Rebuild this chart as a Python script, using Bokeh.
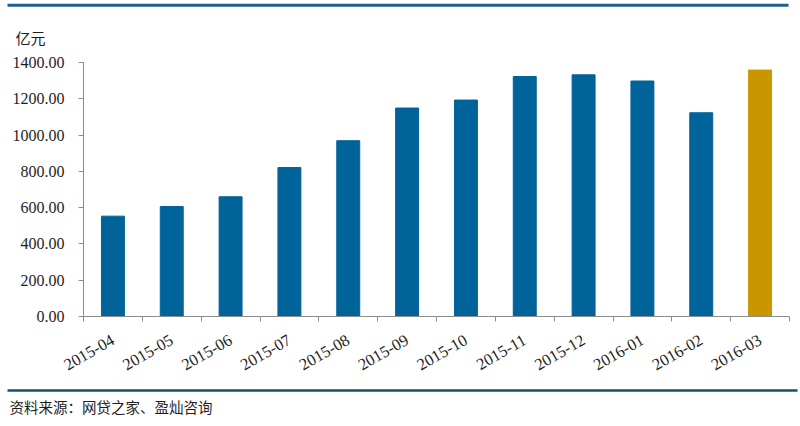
from bokeh.plotting import figure
from bokeh.layouts import column
from bokeh.models import Range1d, FixedTicker, NumeralTickFormatter, ColumnDataSource
from bokeh.core.properties import value
from bokeh.embed import file_html
from bokeh.resources import INLINE
import math

# ---- data ----
months = ["2015-04", "2015-05", "2015-06", "2015-07", "2015-08", "2015-09",
          "2015-10", "2015-11", "2015-12", "2016-01", "2016-02", "2016-03"]
volumes = [553, 606, 660, 821, 969, 1149, 1193, 1323, 1332, 1298, 1123, 1358]
bar_colors = ["#006399"] * 11 + ["#C99600"]
y_ticks = [0, 200, 400, 600, 800, 1000, 1200, 1400]
unit_label = "亿元"
source_note = "资料来源：网贷之家、盈灿咨询"

W = 800
CJK = "Noto Sans CJK SC"
SERIF = "Times New Roman, serif"
TXT = "#1E1E1E"
AXIS = "#8C8C8C"

def blank(h):
    f = figure(width=W, height=h, x_range=Range1d(0, W), y_range=Range1d(h, 0),
               x_axis_type=None, y_axis_type=None, toolbar_location=None,
               output_backend="svg", min_border=0, outline_line_color=None,
               frame_align=False)
    f.xgrid.visible = False
    f.ygrid.visible = False
    return f

# ---- top strip ----
top = blank(50)
top.segment(x0=[7], y0=[4.7], x1=[788], y1=[4.7], line_color="#1F5F8C", line_width=3)
top.text(x=[15], y=[36.5], text=[unit_label], text_font=value(CJK),
         text_font_size="15px", text_color=TXT, text_baseline="middle", text_align="left")

# ---- main chart ----
xs = [i + 0.5 for i in range(len(months))]
src = ColumnDataSource(dict(x=xs, top=volumes, color=bar_colors))
p = figure(width=W, height=330, x_range=Range1d(0, len(months)), y_range=Range1d(0, 1400),
           toolbar_location=None, output_backend="svg",
           min_border_left=83, min_border_right=11, min_border_top=12, min_border_bottom=64,
           outline_line_color=None, frame_align=False)
p.vbar(x="x", top="top", bottom=0, width=0.39, color="color", source=src)
p.xgrid.visible = False
p.ygrid.visible = False

xa = p.xaxis[0]
xa.ticker = FixedTicker(ticks=xs, minor_ticks=list(range(len(months) + 1)))
xa.major_label_overrides = {x: m for x, m in zip(xs, months)}
xa.major_label_orientation = math.pi / 6
xa.major_tick_line_color = None
xa.major_tick_out = 5
xa.minor_tick_out = 5
xa.minor_tick_in = 0
xa.minor_tick_line_color = AXIS
xa.axis_line_color = AXIS
xa.major_label_text_font = SERIF
xa.major_label_text_font_size = "16.5px"
xa.major_label_text_color = TXT
xa.major_label_standoff = 17

ya = p.yaxis[0]
ya.ticker = FixedTicker(ticks=y_ticks)
ya.formatter = NumeralTickFormatter(format="0.00")
ya.minor_tick_line_color = None
ya.major_tick_out = 5
ya.major_tick_in = 0
ya.major_tick_line_color = AXIS
ya.axis_line_color = AXIS
ya.major_label_text_font = SERIF
ya.major_label_text_font_size = "16px"
ya.major_label_text_color = TXT
ya.major_label_standoff = 14

# ---- bottom strip ----
bot = blank(46)
bot.segment(x0=[7], y0=[10], x1=[797], y1=[10], line_color="#164F74", line_width=2.5)
bot.text(x=[9], y=[25.5], text=[source_note], text_font=value(CJK),
         text_font_size="14.5px", text_color=TXT, text_baseline="middle", text_align="left")

layout = column(top, p, bot, spacing=0)
open("out.html", "w").write(file_html(layout, INLINE))
